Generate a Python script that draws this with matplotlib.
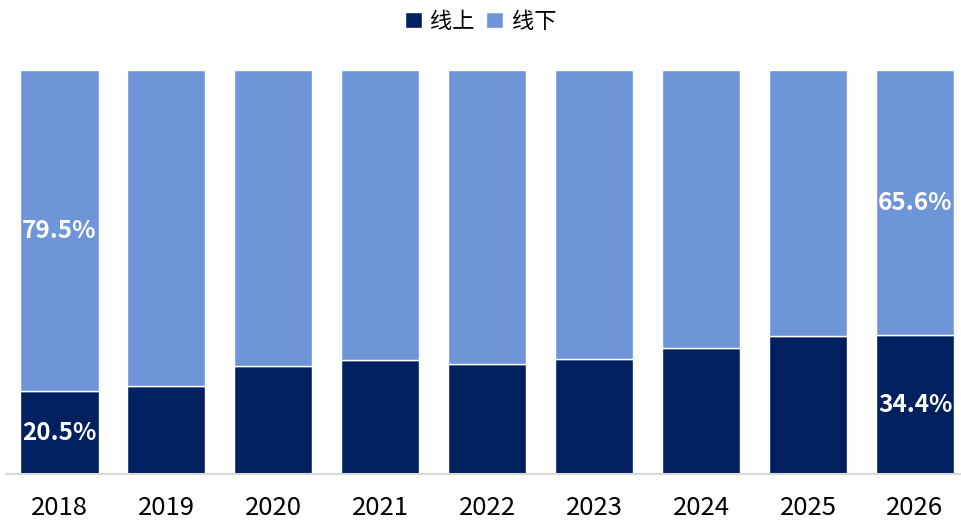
import matplotlib
matplotlib.use("Agg")
import matplotlib.pyplot as plt
import numpy as np

plt.rcParams['font.family'] = ['Noto Sans CJK SC', 'DejaVu Sans']

# 线上/线下 占比 (%)
years = ['2018', '2019', '2020', '2021', '2022', '2023', '2024', '2025', '2026']
online = [20.5, 21.7, 26.8, 28.3, 27.3, 28.5, 31.2, 34.2, 34.4]
offline = [round(100 - v, 1) for v in online]

c_on = '#002060'
c_off = '#6f95d9'

fig = plt.figure(figsize=(9.61, 5.22), dpi=100)
ax = fig.add_axes([6 / 961, 48 / 522, 955 / 961, 404 / 522])

x = np.arange(len(years))
w = 0.73
ax.bar(x, online, w, color=c_on, edgecolor='white', linewidth=1, label='线上')
ax.bar(x, offline, w, bottom=online, color=c_off, edgecolor='white', linewidth=1, label='线下')

# only first and last year are labelled
for i in (0, len(years) - 1):
    ax.text(x[i], online[i] / 2, f'{online[i]:.1f}%', ha='center', va='center',
            color='white', fontsize=17.5, fontweight='bold')
    ax.text(x[i], online[i] + offline[i] / 2, f'{offline[i]:.1f}%', ha='center', va='center',
            color='white', fontsize=17.5, fontweight='bold')

ax.set_xlim(-0.5, 8.43)
ax.set_ylim(0, 100)
ax.set_xticks(x)
ax.set_xticklabels(years, fontsize=18.5)
ax.tick_params(axis='x', length=0, pad=15)
ax.set_yticks([])
for s in ('top', 'right', 'left'):
    ax.spines[s].set_visible(False)
ax.spines['bottom'].set_color('#d9d9d9')
ax.spines['bottom'].set_linewidth(1.5)

fig.legend(loc='upper center', bbox_to_anchor=(0.5, 1.02), ncol=2, frameon=False,
           fontsize=16, handlelength=0.75, handleheight=0.75, handletextpad=0.4,
           columnspacing=0.5)

fig.savefig('out.png', dpi=100)
